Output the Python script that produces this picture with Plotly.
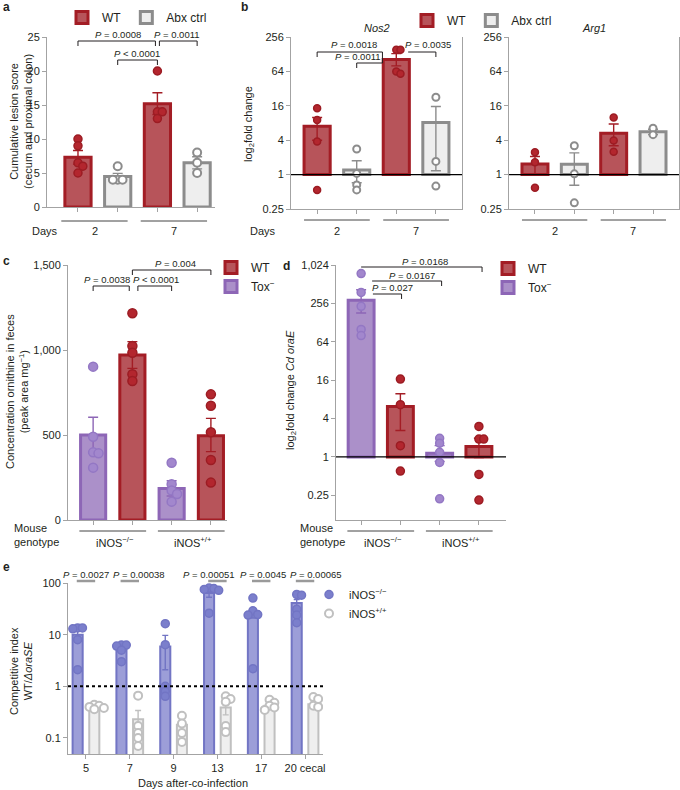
import math
import plotly.graph_objects as go

W, H = 680, 790
def X(px): return px / W
def Y(py): return 1 - py / H

FONT = "Liberation Sans, Arial, Helvetica, sans-serif"
TXT = "#231f20"
AX = "#a3a3a3"

WT_FILL, WT_LINE, WT_PT, WT_PTL = "#b7545a", "#a31d25", "#b3262e", "#9c1c23"
ABX_FILL, ABX_LINE = "#eeeeee", "#8c8c8c"
TOX_FILL, TOX_LINE, TOX_PT, TOX_PTL = "#ab90c9", "#8d66b6", "#a287cd", "#9377c4"
KO_FILL, KO_LINE, KO_PT = "#9c9ed8", "#7275c4", "#7b7fcc"
PP_FILL, PP_LINE = "#efefef", "#c0c0c0"

# ---------------- data ----------------
# panel a: cumulative lesion score
a_days = ["2", "7"]
a_wt_mean = [7.3, 15.2]
a_wt_hi = [8.3, 16.8]
a_wt_lo = [6.3, 13.6]
a_wt_pts = [[10, 9, 6.5, 6, 5], [20, 14, 14, 13]]
a_abx_mean = [4.5, 6.5]
a_abx_hi = [4.95, 7.4]
a_abx_lo = [4.0, 5.6]
a_abx_pts = [[6, 4, 4, 4], [8, 6.5, 5]]

# panel b: Nos2 / Arg1 fold change
nos2_wt_mean = [7.0, 103]
nos2_wt_hi = [10, 131]
nos2_wt_lo = [4.0, 80]
nos2_wt_pts = [[14.5, 9, 3.8, 0.54], [153, 153, 64, 58]]
nos2_abx_mean = [1.2, 8.2]
nos2_abx_hi = [1.75, 15.6]
nos2_abx_lo = [0.72, 1.17]
nos2_abx_pts = [[2.8, 1.05, 0.66, 0.54], [22.6, 1.7, 0.63]]

arg1_wt_mean = [1.54, 5.3]
arg1_wt_hi = [2.07, 7.7]
arg1_wt_lo = [1.0, 3.2]
arg1_wt_pts = [[2.46, 1.65, 0.59], [10, 3.95, 2.5]]
arg1_abx_mean = [1.52, 5.6]
arg1_abx_hi = [2.4, 6.2]
arg1_abx_lo = [0.65, 5.0]
arg1_abx_pts = [[3.2, 1.03, 0.32], [6.5, 5.0]]

# panel c: ornithine
geno = ["iNOS<sup>−/−</sup>", "iNOS<sup>+/+</sup>"]
c_tox_mean = [500, 186]
c_tox_hi = [604, 231]
c_tox_lo = [396, 141]
c_tox_pts = [[902, 490, 398, 392, 308], [337, 210, 173, 153, 108]]
c_wt_mean = [970, 496]
c_wt_hi = [1049, 598]
c_wt_lo = [892, 402]
c_wt_pts = [[1216, 1024, 984, 857, 818], [739, 672, 516, 353, 220]]

# panel d: Cd oraE fold change
d_tox_mean = [286, 1.14]
d_tox_hi = [418, 1.5]
d_tox_lo = [181, 0.85]
d_tox_pts = [[750, 380, 230, 100, 80], [1.96, 1.64, 1.18, 0.82, 0.22]]
d_wt_mean = [6.2, 1.45]
d_wt_hi = [9.8, 1.96]
d_wt_lo = [2.6, 0.98]
d_wt_pts = [[16.6, 6.6, 1.5, 0.6], [3.0, 1.9, 1.9, 0.53, 0.21]]

# panel e: competitive index
e_days = ["5", "7", "9", "13", "17", "20 cecal"]
e_ko_mean = [10, 5.5, 5.9, 64, 27, 41]
e_ko_hi = [11.6, 6.0, 9.7, 75, 33, 48]
e_ko_pts = [[13.5, 13.5, 13, 8, 2.1], [6.3, 6.3, 6.0, 5.0, 3.0], [16.3, 6.4, 1.0, 0.8, 0.64],
            [80, 78, 75, 72, 26], [51, 29, 24.5, 24, 2.2], [60, 58, 31, 24, 17]]
e_pp_mean = [0.42, 0.23, 0.18, 0.39, 0.42, 0.45]
e_pp_hi = [0.44, 0.34, 0.22, 0.5, 0.46, 0.52]
e_pp_pts = [[0.44, 0.42, 0.4, 0.38, 0.36], [0.66, 0.17, 0.125, 0.1, 0.07], [0.27, 0.19, 0.125, 0.084],
            [0.64, 0.57, 0.5, 0.17, 0.13], [0.55, 0.48, 0.42, 0.39, 0.35], [0.62, 0.57, 0.42, 0.4]]
e_pvals = ["0.0027", "0.00038", None, "0.00051", "0.0045", "0.00065"]

# ---------------- helpers ----------------
fig = go.Figure()


def swarm(vals, yscale, xscale, log=False, d=8.0):
    placed, out = [], []
    for v in vals:
        yp = (math.log10(v) if log else v) * yscale
        xp = 0
        for k in [0, 1, -1, 2, -2, 3, -3]:
            xp = k * d * 0.6
            if all((xp - a) ** 2 + (yp - b) ** 2 >= (d * 0.55) ** 2 for a, b in placed):
                break
        placed.append((xp, yp))
        out.append(xp / xscale)
    return out


def add_series(ax, pos, mean, lo, hi, pts, fill, line, pfill, pline, name, legend,
               width, blw, msize, yscale, xscale, log=False, base=None, show=True,
               pt_legend=False, errw=5, plw=1.5):
    xa, ya = ("x" + ax, "y" + ax) if ax else ("x", "y")
    if base is not None:
        ys, bs = [m - base for m in mean], [base] * len(mean)
    else:
        ys, bs = mean, None
    fig.add_trace(go.Bar(x=pos, y=ys, base=bs, width=width, name=name, legend=legend,
                         showlegend=show and not pt_legend, xaxis=xa, yaxis=ya,
                         marker=dict(color=fill, line=dict(color=line, width=blw)),
                         hoverinfo="skip"))
    fig.add_trace(go.Scatter(x=pos, y=mean, mode="markers", marker=dict(size=2, opacity=0),
                             error_y=dict(type="data", symmetric=False,
                                          array=[h - m for h, m in zip(hi, mean)],
                                          arrayminus=[m - l for m, l in zip(mean, lo)],
                                          color=line, thickness=1.4, width=errw),
                             showlegend=False, xaxis=xa, yaxis=ya, hoverinfo="skip"))
    px, py = [], []
    for p, vals in zip(pos, pts):
        offs = swarm(vals, yscale, xscale, log, msize)
        px += [p + o for o in offs]
        py += vals
    fig.add_trace(go.Scatter(x=px, y=py, mode="markers", name=name, legend=legend,
                             showlegend=pt_legend, xaxis=xa, yaxis=ya, hoverinfo="skip",
                             marker=dict(size=msize, color=pfill, line=dict(color=pline, width=plw))))


shapes, annos = [], []


def line(xref, x0, x1, y0, y1, color=TXT, w=1, dash=None, yref="paper"):
    d = dict(type="line", xref=xref, yref=yref, x0=x0, x1=x1, y0=y0, y1=y1,
             line=dict(color=color, width=w))
    if dash:
        d["line"]["dash"] = dash
    shapes.append(d)


def text(xref, x, ypx, s, size=9.5, **kw):
    a = dict(xref=xref, yref="paper", x=x, y=Y(ypx), text=s, showarrow=False,
             xanchor="center", yanchor="middle",
             font=dict(size=size, color=TXT, family=FONT))
    a.update(kw)
    annos.append(a)


def vtext(xpx, ypx, s, size=11):
    annos.append(dict(xref="paper", yref="paper", x=X(xpx), y=Y(ypx), textangle=-90, showarrow=False,
                      xanchor="center", yanchor="middle", text=s,
                      font=dict(size=size, color=TXT, family=FONT)))


def bracket(xref, x0, x1, ypx, label, tpx, tx=None, dl=True, dr=True, drop=5):
    line(xref, x0, x1, Y(ypx), Y(ypx))
    if dl:
        line(xref, x0, x0, Y(ypx), Y(ypx + drop))
    if dr:
        line(xref, x1, x1, Y(ypx), Y(ypx + drop))
    text(xref, (x0 + x1) / 2 if tx is None else tx, tpx, label)


P = "<i>P</i>"

# ---------------- panel a ----------------
pos_wt = [0, 2]
pos_b = [1, 3]
add_series("", pos_wt, a_wt_mean, a_wt_lo, a_wt_hi, a_wt_pts, WT_FILL, WT_LINE, WT_PT, WT_PTL,
           "WT", "legend", 0.66, 3, 8, 6.8, 39.5)
add_series("", pos_b, a_abx_mean, a_abx_lo, a_abx_hi, a_abx_pts, ABX_FILL, ABX_LINE, "white", ABX_LINE,
           "Abx ctrl", "legend", 0.66, 3, 8, 6.8, 39.5, plw=2)

# ---------------- panel b ----------------
add_series("2", pos_wt, nos2_wt_mean, nos2_wt_lo, nos2_wt_hi, nos2_wt_pts, WT_FILL, WT_LINE, WT_PT, WT_PTL,
           "WT", "legend2", 0.66, 3, 7, 57.1, 39.6, log=True, base=1)
add_series("2", pos_b, nos2_abx_mean, nos2_abx_lo, nos2_abx_hi, nos2_abx_pts, ABX_FILL, ABX_LINE, "white",
           ABX_LINE, "Abx ctrl", "legend2", 0.66, 3, 7, 57.1, 39.6, log=True, base=1, plw=2)
add_series("3", pos_wt, arg1_wt_mean, arg1_wt_lo, arg1_wt_hi, arg1_wt_pts, WT_FILL, WT_LINE, WT_PT, WT_PTL,
           "WT", "legend2", 0.66, 3, 7, 57.1, 39.6, log=True, base=1, show=False)
add_series("3", pos_b, arg1_abx_mean, arg1_abx_lo, arg1_abx_hi, arg1_abx_pts, ABX_FILL, ABX_LINE, "white",
           ABX_LINE, "Abx ctrl", "legend2", 0.66, 3, 7, 57.1, 39.6, log=True, base=1, show=False, plw=2)

# ---------------- panel c ----------------
add_series("4", pos_b, c_wt_mean, c_wt_lo, c_wt_hi, c_wt_pts, WT_FILL, WT_LINE, WT_PT, WT_PTL,
           "WT", "legend3", 0.64, 3, 9, 0.17, 39.3)
add_series("4", pos_wt, c_tox_mean, c_tox_lo, c_tox_hi, c_tox_pts, TOX_FILL, TOX_LINE, TOX_PT, TOX_PTL,
           "Tox<sup>−</sup>", "legend3", 0.64, 3, 9, 0.17, 39.3)

# ---------------- panel d ----------------
add_series("5", pos_b, d_wt_mean, d_wt_lo, d_wt_hi, d_wt_pts, WT_FILL, WT_LINE, WT_PT, WT_PTL,
           "WT", "legend4", 0.66, 3, 8, 63.8, 39.3, log=True, base=1)
add_series("5", pos_wt, d_tox_mean, d_tox_lo, d_tox_hi, d_tox_pts, TOX_FILL, TOX_LINE, TOX_PT, TOX_PTL,
           "Tox<sup>−</sup>", "legend4", 0.66, 3, 8, 63.8, 39.3, log=True, base=1)

# ---------------- panel e ----------------
g = list(range(len(e_days)))
ko_pos = [i - 0.19 for i in g]
pp_pos = [i + 0.19 for i in g]
add_series("6", ko_pos, e_ko_mean, [2 * m - h for m, h in zip(e_ko_mean, e_ko_hi)], e_ko_hi, e_ko_pts,
           KO_FILL, KO_LINE, KO_PT, KO_LINE, "iNOS<sup>−/−</sup>", "legend5", 0.23, 2, 8, 51.7, 43.8,
           log=True, pt_legend=True, errw=3)
add_series("6", pp_pos, e_pp_mean, [max(2 * m - h, 0.01) for m, h in zip(e_pp_mean, e_pp_hi)], e_pp_hi,
           e_pp_pts, PP_FILL, PP_LINE, "white", PP_LINE, "iNOS<sup>+/+</sup>", "legend5", 0.23, 2, 8,
           51.7, 43.8, log=True, pt_legend=True, errw=3, plw=2)

# ---------------- axes ----------------
tickf = dict(size=11, color=TXT, family=FONT)


def xax(l, r, rng, tickvals, ticktext=None):
    d = dict(domain=[X(l), X(r)], range=rng, showgrid=False, zeroline=False, showline=True,
             linecolor=AX, linewidth=1, ticks="outside", ticklen=4, tickcolor=AX,
             tickvals=tickvals, tickfont=tickf, fixedrange=True, automargin=False)
    if ticktext:
        d["ticktext"] = ticktext
    else:
        d["showticklabels"] = False
    return d


def yax(top, bottom, rng, tv, tt, log=False, mirror=False):
    d = dict(domain=[Y(bottom), Y(top)], range=rng, showgrid=False, zeroline=False, showline=True,
             linecolor=AX, linewidth=1, ticks="outside", ticklen=4, tickcolor=AX,
             tickvals=tv, ticktext=tt, tickfont=tickf, fixedrange=True, mirror=mirror,
             automargin=False)
    if log:
        d["type"] = "log"
    return d


L2 = [0.25, 1, 4, 16, 64, 256]
L2T = ["0.25", "1", "4", "16", "64", "256"]

fig.update_layout(
    xaxis=dict(xax(47, 215, [-0.78, 3.45], [0, 1, 2, 3]), anchor="y"),
    yaxis=dict(yax(37, 207, [0, 25], [0, 5, 10, 15, 20, 25], ["0", "5", "10", "15", "20", "25"]), anchor="x"),
    xaxis2=dict(xax(291, 462, [-0.66, 3.66], [0, 1, 2, 3]), anchor="y2"),
    yaxis2=dict(yax(37, 209, [math.log10(0.25), math.log10(256)], L2, L2T, log=True, mirror=True), anchor="x2"),
    xaxis3=dict(xax(509, 679, [-0.66, 3.66], [0, 1, 2, 3]), anchor="y3"),
    yaxis3=dict(yax(37, 209, [math.log10(0.25), math.log10(256)], L2, L2T, log=True, mirror=True), anchor="x3"),
    xaxis4=dict(xax(68, 227, [-0.64, 3.41], [0, 1, 2, 3]), anchor="y4"),
    yaxis4=dict(yax(265, 520, [0, 1500], [0, 500, 1000, 1500], ["0", "500", "1,000", "1,500"]), anchor="x4"),
    xaxis5=dict(xax(336, 506, [-0.64, 3.69], [0, 1, 2, 3]), anchor="y5"),
    yaxis5=dict(yax(265, 520, [-0.99, math.log10(1024)], L2 + [1024], L2T + ["1,024"], log=True), anchor="x5"),
    xaxis6=dict(xax(68, 323, [-0.41, 5.41], g, e_days), anchor="y6"),
    yaxis6=dict(yax(583, 754, [-1.31, 2], [0.1, 1, 10, 100], ["0.1", "1", "10", "100"], log=True), anchor="x6"),
)

# baselines at 1
for ax in ["x2", "x3", "x5"]:
    shapes.append(dict(type="line", xref=ax + " domain", yref="y" + ax[1:], x0=0, x1=1, y0=1, y1=1,
                       line=dict(color="black", width=1.2)))
shapes.append(dict(type="line", xref="x6 domain", yref="y6", x0=0, x1=1, y0=1, y1=1,
                   line=dict(color="black", width=2, dash="dot")))

# ---- panel a decorations
bracket("x", 0, 1.95, 41, f"{P} = 0.0008", 34, tx=1)
bracket("x", 1, 2, 60, f"{P} < 0.0001", 53, tx=1.48)
bracket("x", 2.05, 3, 41, f"{P} = 0.0011", 34, tx=2.5)
for i, dname in enumerate(a_days):
    line("x", 2 * i - 0.42, 2 * i + 1.25, Y(221), Y(221), color="#444")
    text("x", 2 * i + 0.42, 231, dname, size=11)
text("paper", X(45), 231, "Days", size=11)
vtext(21, 122, "Cumulative lesion score<br>(cecum and proximal colon)")

# ---- panel b decorations
bracket("x2", 0, 1.65, 52, f"{P} = 0.0018", 45, tx=0.93, dr=False)
bracket("x2", 1, 1.65, 63, f"{P} = 0.0011", 57, tx=1.02, dr=False)
line("x2", 1.65, 1.65, Y(52), Y(63))
bracket("x2", 2.3, 3, 52, f"{P} = 0.0035", 45, tx=2.8, dl=False)
for ax in ["x2", "x3"]:
    for i, dname in enumerate(a_days):
        line(ax, 2 * i - 0.33, 2 * i + 1.33, Y(220), Y(220), color="#444")
        text(ax, 2 * i + 0.5, 231, dname, size=11)
text("paper", X(263), 231, "Days", size=11)
text("x2", 1.5, 28, "<i>Nos2</i>", size=11)
text("x3", 1.5, 28, "<i>Arg1</i>", size=11)
vtext(249, 124, "log<sub>2</sub>fold change")

# ---- panel c decorations
bracket("x4", 0, 0.92, 286, f"{P} = 0.0038", 279, tx=0.35)
bracket("x4", 1.14, 2, 286, f"{P} < 0.0001", 279, tx=1.6)
bracket("x4", 1, 3, 270, f"{P} = 0.004", 263, tx=2.1)
for ax, lx in [("x4", 12), ("x5", 298)]:
    for i, gname in enumerate(geno):
        line(ax, 2 * i - 0.35, 2 * i + 1.35, Y(531), Y(531), color="#444")
        text(ax, 2 * i + 0.55, 542, gname, size=11)
    annos.append(dict(xref="paper", yref="paper", x=X(lx), y=Y(535), xanchor="left", yanchor="middle",
                      showarrow=False, align="left", text="Mouse<br>genotype",
                      font=dict(size=11, color=TXT, family=FONT)))
vtext(17, 392, "Concentration ornithine in feces<br>(peak area mg<sup>−1</sup>)")

# ---- panel d decorations
line("x5", 0, 3.08, Y(267), Y(267))
line("x5", 3.08, 3.08, Y(267), Y(272))
text("x5", 1.63, 261, f"{P} = 0.0168")
line("x5", 0.28, 2.05, Y(281), Y(281))
line("x5", 2.05, 2.05, Y(281), Y(286))
text("x5", 1.3, 275, f"{P} = 0.0167")
line("x5", 0.3, 1.03, Y(294), Y(294))
line("x5", 1.03, 1.03, Y(294), Y(299))
text("x5", 0.79, 288, f"{P} = 0.027")
vtext(291, 390, "log<sub>2</sub>fold change <i>Cd oraE</i>")

# ---- panel e decorations
for i, pv in enumerate(e_pvals):
    if pv is None:
        continue
    line("x6", ko_pos[i] - 0.02, pp_pos[i] + 0.02, Y(581), Y(581), color="#9a9a9a", w=2.5)
shift = [0, 9, 0, -8, 2, 11]
for i, pv in enumerate(e_pvals):
    if pv is None:
        continue
    text("x6", i, 574, f"{P} = {pv}", xshift=shift[i])
text("paper", X(193), 783, "Days after-co-infection", size=11)
vtext(21, 671, "Competitive index<br>WT/<i>ΔoraSE</i>")

# panel letters
for lab, px_, py_ in [("a", 6, 7), ("b", 244, 7), ("c", 6, 261), ("d", 286, 266), ("e", 6, 567)]:
    text("paper", X(px_), py_, f"<b>{lab}</b>", size=12)

legfont = dict(size=12, color=TXT, family=FONT)
fig.update_layout(
    width=W, height=H, autosize=False, margin=dict(l=0, r=0, t=0, b=0, autoexpand=False),
    paper_bgcolor="white", plot_bgcolor="white", barmode="overlay",
    font=dict(family=FONT, color=TXT),
    shapes=shapes, annotations=annos,
    legend=dict(x=X(62), y=Y(3), xanchor="left", yanchor="top", orientation="h", font=legfont,
                bgcolor="rgba(0,0,0,0)", itemclick=False),
    legend2=dict(x=X(407), y=Y(6), xanchor="left", yanchor="top", orientation="h", font=legfont,
                 bgcolor="rgba(0,0,0,0)", itemclick=False),
    legend3=dict(x=X(211), y=Y(253), xanchor="left", yanchor="top", orientation="v", font=legfont,
                 bgcolor="rgba(0,0,0,0)", itemclick=False, tracegroupgap=0),
    legend4=dict(x=X(488), y=Y(254), xanchor="left", yanchor="top", orientation="v", font=legfont,
                 bgcolor="rgba(0,0,0,0)", itemclick=False, tracegroupgap=0),
    legend5=dict(x=X(309), y=Y(580), xanchor="left", yanchor="top", orientation="v",
                 font=dict(size=11, color=TXT, family=FONT),
                 bgcolor="rgba(0,0,0,0)", itemclick=False, tracegroupgap=0),
    showlegend=True,
)

fig.write_html("out.html", config={"displayModeBar": False, "staticPlot": True},
               post_script="document.body.style.margin='0';document.body.style.overflow='hidden';")
